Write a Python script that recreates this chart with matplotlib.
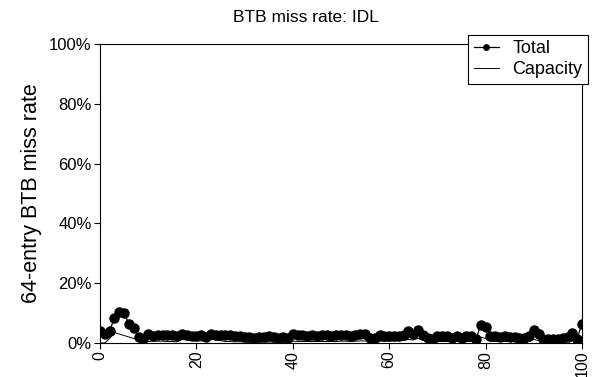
import matplotlib
matplotlib.use("Agg")
import matplotlib.pyplot as plt
from matplotlib.ticker import PercentFormatter

plt.rcParams['font.family'] = ['Liberation Sans', 'DejaVu Sans']

# miss rate (%) for 101 samples
total = [4.0, 3.0, 4.0, 8.5, 10.5, 10.0, 6.5, 5.0, 2.0, 1.5,
         3.0, 2.5, 2.8, 2.7, 2.8, 2.6, 2.3, 3.0, 2.7, 2.5,
         2.4, 2.6, 2.0, 3.0, 2.6, 2.8, 2.7, 2.8, 2.4, 2.3,
         2.1, 2.0, 1.8, 2.0, 1.9, 2.2, 2.0, 1.8, 1.9, 1.7,
         2.9, 2.8, 2.7, 2.5, 2.8, 2.3, 2.6, 2.8, 2.4, 2.7,
         2.8, 2.6, 2.2, 2.7, 3.0, 2.9, 1.8, 1.6, 2.6, 2.4,
         2.3, 2.5, 2.2, 2.6, 4.0, 3.0, 4.5, 2.6, 1.8, 1.5,
         2.3, 2.5, 2.2, 1.8, 2.4, 1.8, 2.2, 2.5, 1.3, 6.0,
         5.5, 2.5, 2.2, 2.0, 2.2, 1.9, 2.1, 1.8, 1.7, 2.2,
         4.3, 3.0, 1.5, 1.2, 1.5, 1.2, 1.6, 2.0, 3.3, 1.5,
         6.5]
capacity = [0.0, 0.0, 1.5, 3.5, 3.0, 2.5, 2.0, 1.5, 1.0, 0.5,
            0.5, 0.6, 0.6, 0.6, 0.5, 0.5, 0.4, 1.2, 1.0, 0.8,
            0.7, 0.7, 0.6, 1.3, 1.0, 0.8, 0.5, 0.5, 0.4, 0.4,
            0.3, 0.3, 0.3, 0.3, 0.3, 0.3, 0.3, 0.3, 0.3, 0.3,
            0.6, 0.5, 0.5, 0.5, 0.5, 0.5, 0.5, 0.5, 0.5, 0.5,
            0.6, 0.6, 0.5, 0.6, 0.7, 0.7, 0.5, 0.5, 0.6, 0.6,
            0.6, 0.7, 0.7, 0.9, 1.2, 1.0, 1.6, 0.9, 0.5, 0.4,
            0.5, 0.5, 0.5, 0.4, 0.5, 0.4, 0.5, 0.5, 0.4, 2.0,
            1.5, 0.6, 0.5, 0.5, 0.5, 0.5, 0.5, 0.4, 0.4, 0.5,
            1.2, 0.8, 0.4, 0.3, 0.4, 0.3, 0.4, 0.5, 0.8, 0.4,
            1.5]
xs = list(range(len(total)))

fig = plt.figure(figsize=(5.98, 3.77), dpi=100)
ax = fig.add_axes([100 / 598, 1 - 343 / 377, 482 / 598, 299 / 377])

ax.plot(xs, total, color='black', lw=0.9, marker='o', markersize=6.5, label='Total')
ax.plot(xs, capacity, color='black', lw=0.7, label='Capacity')

ax.set_xlim(0, 100)
ax.set_ylim(0, 100)
ax.set_xticks(range(0, 101, 20))
ax.set_yticks(range(0, 101, 20))
ax.yaxis.set_major_formatter(PercentFormatter(decimals=0))
ax.tick_params(direction='out', length=4, width=0.8, labelsize=12, pad=2)
ax.tick_params(axis='x', labelsize=11.5, pad=1.5)
for lbl in ax.get_xticklabels():
    lbl.set_rotation(90)

# title sits a bit left of the axes centre in the original
fig.text(306 / 598, 1 - 18 / 377, 'BTB miss rate: IDL', fontsize=12.5,
         ha='center', va='center')
ax.set_ylabel('64-entry BTB miss rate', fontsize=15.5, labelpad=5)

leg = ax.legend(loc='upper right', bbox_to_anchor=(1.012, 1.03), fancybox=False,
                framealpha=1, edgecolor='black', fontsize=13, handlelength=1.4,
                borderpad=0.3, labelspacing=0.22, handletextpad=0.75,
                borderaxespad=0, markerscale=0.6)
leg.get_frame().set_linewidth(0.8)

fig.savefig('out.png', dpi=100)
